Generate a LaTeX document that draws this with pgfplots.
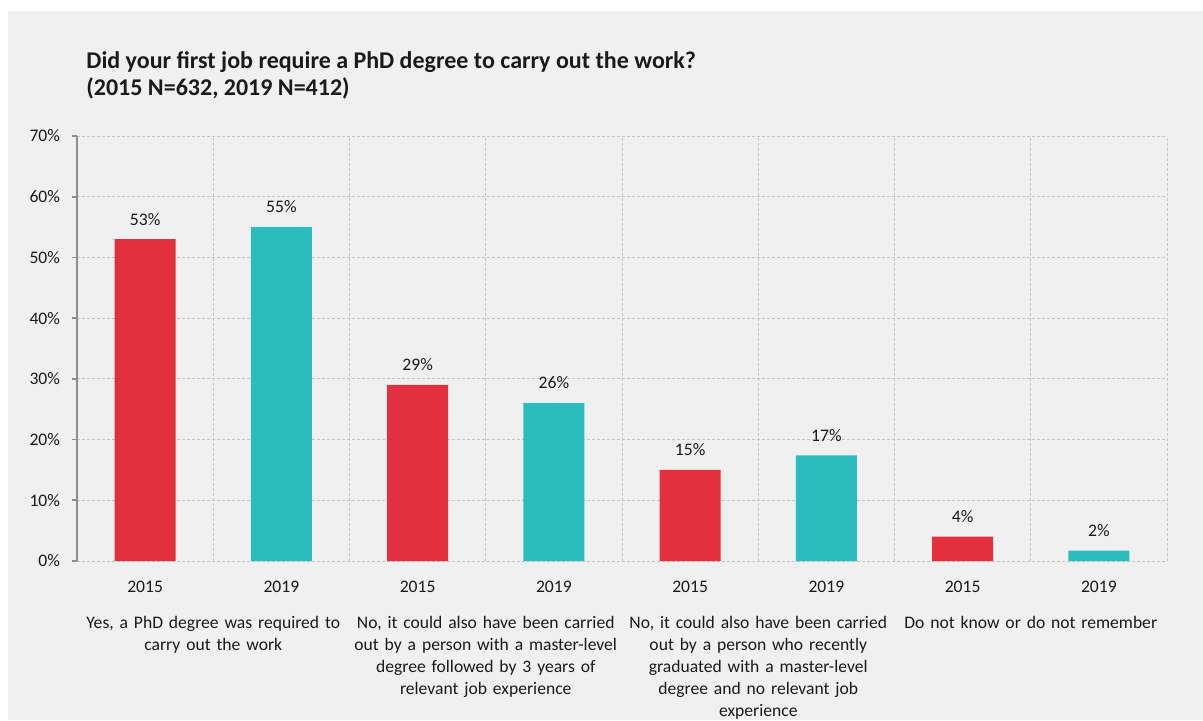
\documentclass[border=0pt]{standalone}
\usepackage{pgfplots}
\pgfplotsset{compat=1.18}
\usepackage{fontspec}
\setmainfont{Carlito}
\definecolor{bg}{HTML}{F0F0F0}
\definecolor{cred}{HTML}{E3303F}
\definecolor{cteal}{HTML}{2BBDBD}
\definecolor{gridc}{HTML}{C4C4C4}
\definecolor{axc}{HTML}{8C8C8C}
\definecolor{txt}{HTML}{1A1A1A}
\begin{document}
\begin{tikzpicture}
\path[use as bounding box] (0,0) rectangle (601.5pt,360pt);
\fill[bg] (4pt,0) rectangle (601.5pt,354.5pt);
\node[anchor=base west, inner sep=0, text=txt, font=\fontsize{12}{14}\selectfont\bfseries] at (43pt,326pt) {Did your first job require a PhD degree to carry out the work?};
\node[anchor=base west, inner sep=0, text=txt, font=\fontsize{12}{14}\selectfont\bfseries] at (43pt,312.5pt) {(2015 N=632, 2019 N=412)};
\begin{axis}[
  at={(38.5pt,79.5pt)}, anchor=south west,
  scale only axis, width=545pt, height=212.5pt,
  xmin=-0.5, xmax=7.5, ymin=0, ymax=70,
  axis lines=left,
  axis line style={-},
  x axis line style={draw=none},
  y axis line style={axc, line width=0.9pt},
  ytick={0,10,...,70},
  yticklabel={\pgfmathprintnumber{\tick}\%},
  /pgf/number format/assume math mode=true,
  tick align=outside,
  major tick length=2.5pt,
  ytick style={axc, line width=0.9pt},
  xtick={0,...,7},
  xticklabels={2015,2019,2015,2019,2015,2019,2015,2019},
  xtick style={draw=none},
  minor xtick={-0.5,0.5,...,7.5},
  minor x tick style={draw=none},
  xmajorgrids=false,
  xminorgrids=true,
  ymajorgrids=true,
  grid style={gridc, line width=0.5pt, dash pattern=on 1.5pt off 1pt},
  minor grid style={gridc, line width=0.5pt, dash pattern=on 1.5pt off 1pt},
  ticklabel style={font=\fontsize{8.8}{10}\selectfont, text=txt},
  xticklabel style={yshift=-4pt},
  yticklabel style={xshift=-2.5pt},
  ybar, bar width=30.5pt, bar shift=0pt,
  nodes near coords={\pgfmathprintnumber[fixed,precision=0]{\pgfplotspointmeta}\%},
  nodes near coords style={font=\fontsize{8.8}{10}\selectfont, text=txt, yshift=3.5pt, /pgf/number format/assume math mode=true},
  clip=false,
]
\addplot[fill=cred, draw=none] coordinates {(0,53) (2,29) (4,15) (6,4)};
\addplot[fill=cteal, draw=none] coordinates {(1,55) (3,26) (5,17.4) (7,1.7)};
\begin{scope}[every node/.style={anchor=north, inner sep=0, text width=140pt, align=center, text=txt, font=\fontsize{8.8}{11}\selectfont}]
\node at (axis cs:0.5,0) [yshift=-27.5pt] {Yes, a PhD degree was required to\\carry out the work};
\node at (axis cs:2.5,0) [yshift=-27.5pt] {No, it could also have been carried\\out by a person with a master-level\\degree followed by 3 years of\\relevant job experience};
\node at (axis cs:4.5,0) [yshift=-27.5pt] {No, it could also have been carried\\out by a person who recently\\graduated with a master-level\\degree and no relevant job\\experience};
\node at (axis cs:6.5,0) [yshift=-27.5pt] {Do not know or do not remember};
\end{scope}
\end{axis}
\end{tikzpicture}
\end{document}
